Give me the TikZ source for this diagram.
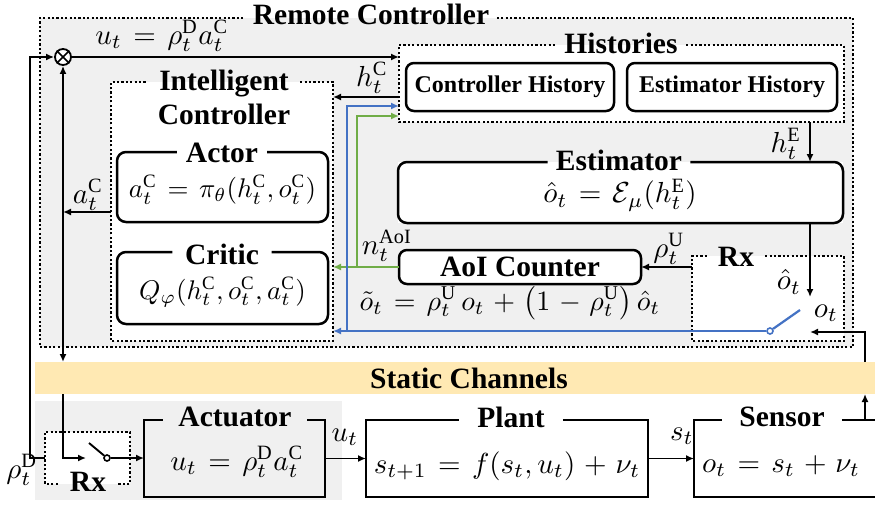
\documentclass[tikz,border=0pt]{standalone}
\usepackage{amsmath}
\usepackage{graphicx}
\usepackage{fontspec}
\setmainfont{Liberation Serif}
\usetikzlibrary{arrows.meta}
\definecolor{panel}{HTML}{F0F0F0}
\definecolor{chan}{HTML}{FFE9B3}
\definecolor{bl}{HTML}{4472C4}
\definecolor{gr}{HTML}{70AD47}
\newcommand\tfont{\fontsize{29.5}{34}\selectfont\bfseries}
\newcommand\hfont{\fontsize{24}{27}\selectfont\bfseries}
\newcommand\mth[2][2.9]{\scalebox{#1}{$\thickmuskip=7mu plus 2mu\medmuskip=5.5mu plus 2mu #2$}}
\begin{document}
\begin{tikzpicture}[x=1pt,y=-1pt,
  rg/.style={draw=none,inner sep=0pt,outer sep=0pt},
  rbox/.style={draw,line width=2.5pt,rounded corners=8pt,fill=white,inner sep=0pt,outer sep=0pt},
  ttl/.style={inner ysep=0pt,font=\tfont},
  solidline/.style={line width=2.5pt,rounded corners=9pt},
  sharpline/.style={line width=2.5pt},
  dotline/.style={line width=2.2pt,dash pattern=on 2.2pt off 2.2pt},
  lbl/.style={inner sep=0pt,font=\fontsize{10}{12}\selectfont},
  arr/.style={line width=1.9pt,-{Latex[length=8pt,width=7pt]}},
  arrboth/.style={line width=1.9pt,{Latex[length=8pt,width=7pt]}-{Latex[length=8pt,width=7pt]}},
  barr/.style={line width=2.2pt,draw=bl,-{Latex[length=8pt,width=7pt]}},
  garr/.style={line width=2.2pt,draw=gr,-{Latex[length=8pt,width=7pt]}}]
\useasboundingbox (0,0) rectangle (875,506);
% background areas
\node[rg,fill=panel,minimum width=813pt,minimum height=329pt] (rc) at (446.5,182.5) {};
\node[rg,fill=white,minimum width=445pt,minimum height=77pt] (hist) at (621.5,83.5) {};
\node[rg,fill=white,minimum width=222pt,minimum height=259pt] (ic) at (222,211.5) {};
\node[rg,fill=white,minimum width=152pt,minimum height=85pt] (rxr) at (768,298.5) {};
\node[rg,fill=chan,minimum width=843pt,minimum height=32pt] (band) at (456.5,378) {};
\node[font=\tfont] (bandtxt) at (469,378) {Static Channels};
\node[rg,fill=panel,minimum width=307pt,minimum height=99pt] (actarea) at (188.5,450.5) {};
\node[rg,fill=white,minimum width=85pt,minimum height=52pt] (rxl) at (87.5,458) {};
% boxes
\node[rbox,minimum width=208pt,minimum height=48pt] (ch) at (510,87) {\hfont Controller History};
\node[rbox,minimum width=210pt,minimum height=48pt] (eh) at (732,87) {\hfont Estimator History};
\node[rbox,minimum width=242pt,minimum height=34pt] (aoi) at (520,267) {\tfont AoI Counter};
\node[rg,fill=white,minimum width=211pt,minimum height=70pt] (actor) at (222.5,187) {};
\node[rg,fill=white,minimum width=211pt,minimum height=72pt] (critic) at (222.5,288) {};
\node[rg,fill=white,minimum width=445pt,minimum height=61pt] (est) at (620.5,192.5) {};
\node[rg,fill=panel,minimum width=181pt,minimum height=77pt] (act) at (234.5,458.5) {};
\node[rg,fill=white,minimum width=282pt,minimum height=77pt] (plant) at (507,458.5) {};
\node[rg,fill=white,minimum width=186pt,minimum height=77pt] (sensor) at (787,458.5) {};
% titles
\node[ttl,inner xsep=7.5pt] (rcT) at (371,14) {Remote Controller};
\node[ttl,inner xsep=8.5pt] (histT) at (621,43) {Histories};
\node[ttl,inner xsep=10pt,align=center,font=\fontsize{29.5}{34}\selectfont\bfseries] (icT) at (224,97) {Intelligent\\Controller};
\node[ttl,inner xsep=11pt] (rxrT) at (736,257) {Rx};
\node[ttl,inner xsep=12pt] (rxlT) at (88,482) {Rx};
\node[ttl,inner xsep=9pt] (actorT) at (222,153) {Actor};
\node[ttl,inner xsep=12.5pt] (criticT) at (222,254) {Critic};
\node[ttl,inner xsep=8pt] (estT) at (619,160) {Estimator};
\node[ttl,inner xsep=15.5pt] (actT) at (235,417) {Actuator};
\node[ttl,inner xsep=18pt] (plantT) at (511,417) {Plant};
\node[ttl,inner xsep=17pt] (sensorT) at (782,417) {Sensor};
% dotted borders with title gaps
\draw[dotline] (rcT.east |- rc.north) -- (rc.north east) -- (rc.south east) -- (rc.south west) -- (rc.north west) -- (rcT.west |- rc.north);
\draw[dotline] (histT.east |- hist.north) -- (hist.north east) -- (hist.south east) -- (hist.south west) -- (hist.north west) -- (histT.west |- hist.north);
\draw[dotline] (icT.east |- ic.north) -- (ic.north east) -- (ic.south east) -- (ic.south west) -- (ic.north west) -- (icT.west |- ic.north);
\draw[dotline] (rxrT.east |- rxr.north) -- (rxr.north east) -- (rxr.south east) -- (rxr.south west) -- (rxr.north west) -- (rxrT.west |- rxr.north);
\draw[dotline] (rxlT.west |- rxl.south) -- (rxl.south west) -- (rxl.north west) -- (rxl.north east) -- (rxl.south east) -- (rxlT.east |- rxl.south);
% solid borders with title gaps
\draw[solidline] (actorT.east |- actor.north) -- (actor.north east) -- (actor.south east) -- (actor.south west) -- (actor.north west) -- (actorT.west |- actor.north);
\draw[solidline] (criticT.east |- critic.north) -- (critic.north east) -- (critic.south east) -- (critic.south west) -- (critic.north west) -- (criticT.west |- critic.north);
\draw[solidline] (estT.east |- est.north) -- (est.north east) -- (est.south east) -- (est.south west) -- (est.north west) -- (estT.west |- est.north);
\draw[sharpline] (actT.east |- act.north) -- (act.north east) -- (act.south east) -- (act.south west) -- (act.north west) -- (actT.west |- act.north);
\draw[sharpline] (plantT.east |- plant.north) -- (plant.north east) -- (plant.south east) -- (plant.south west) -- (plant.north west) -- (plantT.west |- plant.north);
\draw[sharpline] (sensorT.east |- sensor.north) -- (sensor.north east) -- (sensor.south east) -- (sensor.south west) -- (sensor.north west) -- (sensorT.west |- sensor.north);
% equations
\node[lbl] (actoreq) at (222.5,190) {\mth[2.7]{a_t^{\mathrm{C}}=\pi_\theta(h_t^{\mathrm{C}},o_t^{\mathrm{C}})}};
\node[lbl] (criticeq) at (222.5,292) {\mth[2.7]{Q_\varphi(h_t^{\mathrm{C}},o_t^{\mathrm{C}},a_t^{\mathrm{C}})}};
\node[lbl] (esteq) at (620,195) {\mth{\hat{o}_t=\mathcal{E}_\mu(h_t^{\mathrm{E}})}};
\node[lbl] (acteq) at (237,462) {\mth{u_t=\rho_t^{\mathrm{D}}a_t^{\mathrm{C}}}};
\node[lbl] (planteq) at (507,466) {\mth{s_{t+1}=f(s_t,u_t)+\nu_t}};
\node[lbl] (senseq) at (781,466) {\mth{o_t=s_t+\nu_t}};
% multiplier
\node[circle,draw,line width=1.8pt,inner sep=0pt,minimum size=16pt,fill=white] (otimes) at (63,57) {};
\draw[line width=1.6pt] (otimes.north west) -- (otimes.south east) (otimes.north east) -- (otimes.south west);
% switch points
\coordinate (swin) at (86,458);
\coordinate (lev) at (89,443);
\node[circle,draw,line width=1.6pt,inner sep=0pt,minimum size=6pt,fill=white] (swc) at (107,458) {};
\node[circle,draw=bl,line width=1.6pt,inner sep=0pt,minimum size=6pt,fill=white] (swr) at (770,331) {};
\coordinate (levr) at (800,310);
\coordinate (senstop) at (865,420);
\coordinate (oin) at (810,332);
\coordinate (ohat) at (810,297);
\coordinate (xo) at (810,0);
\coordinate (acout) at (111,212);
\coordinate (hcin) at (399,97);
\coordinate (bin) at (399,106);
\coordinate (gin) at (399,116);
\coordinate (bx) at (347,0);
\coordinate (gx) at (357,0);
% connectors
\draw[arr] (otimes.east) -- (otimes.east -| hist.west);
\draw[arr] (rxl.west) -- ++(-15,0) |- (otimes.west);
\draw[arrboth] (otimes.south) -- (otimes.south |- band.north);
\draw[arr] (acout) -- (acout -| otimes.south);
\draw[arr] (otimes.south |- band.south) |- (swin);
\draw[line width=1.9pt] (lev) -- (swc);
\draw[arr] (swc) -- (swc -| act.west);
\draw[arr] (act.east) -- (act.east -| plant.west);
\draw[arr] (plant.east) -- (plant.east -| sensor.west);
\draw[arr] (senstop) -- (senstop |- band.south);
\draw[arr] (senstop |- band.north) |- (oin);
\draw[arr] (xo |- est.south) -- (ohat);
\draw[arr] (xo |- hist.south) -- (xo |- est.north);
\draw[arr] (rxr.west |- aoi.east) -- (aoi.east);
\draw[arr] (hcin) -- (hcin -| ic.east);
\draw[garr] (aoi.west) -- (aoi.west -| ic.east);
\draw[garr] (gx |- aoi.west) |- (gin);
\draw[barr] (swr) -- (swr -| ic.east);
\draw[barr] (bx |- swr) |- (bin);
\draw[line width=2.2pt,draw=bl] (swr) -- (levr);
% labels
\node[lbl] (lu) at (162,36) {\mth{u_t=\rho_t^{\mathrm{D}}a_t^{\mathrm{C}}}};
\node[lbl] (lhc) at (372,78) {\mth{h_t^{\mathrm{C}}}};
\node[lbl] (lac) at (88,195) {\mth{a_t^{\mathrm{C}}}};
\node[lbl] (lhe) at (786,144) {\mth{h_t^{\mathrm{E}}}};
\node[lbl] (lnaoi) at (387,246) {\mth{n_t^{\mathrm{AoI}}}};
\node[lbl] (lru) at (669,249) {\mth{\rho_t^{\mathrm{U}}}};
\node[lbl] (loh) at (789,282) {\mth{\hat{o}_t}};
\node[lbl] (lo) at (826,313) {\mth{o_t}};
\node[lbl] (lot) at (510,303) {\mth[2.8]{\tilde{o}_t=\rho_t^{\mathrm{U}}\,o_t+\bigl(1-\rho_t^{\mathrm{U}}\bigr)\,\hat{o}_t}};
\node[lbl] (lub) at (345,437) {\mth{u_t}};
\node[lbl] (lst) at (682,436) {\mth{s_t}};
\node[lbl] (lrd) at (22,470) {\mth{\rho_t^{\mathrm{D}}}};
\end{tikzpicture}
\end{document}
